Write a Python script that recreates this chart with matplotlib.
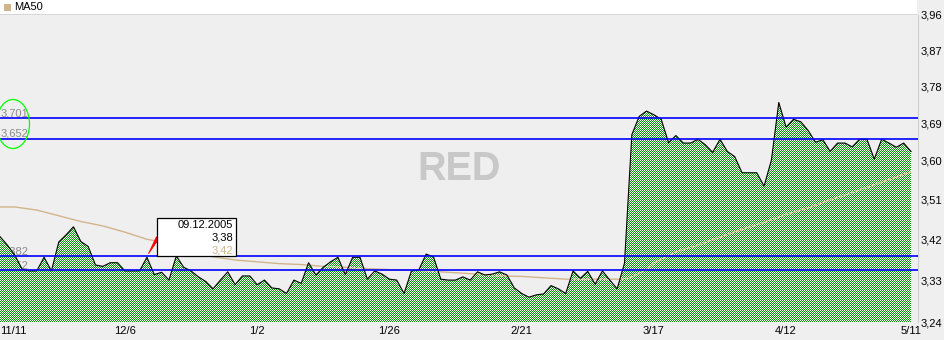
import numpy as np
import matplotlib
matplotlib.use("Agg")
import matplotlib.pyplot as plt
from matplotlib.patches import Polygon, Rectangle, Ellipse
from matplotlib.ticker import NullLocator, FixedLocator
from matplotlib.transforms import Affine2D

plt.rcParams['font.family'] = ['Liberation Sans', 'DejaVu Sans']

# ---------------- data ----------------
prices = [3.426, 3.407, 3.385, 3.354, 3.350, 3.350, 3.380, 3.350, 3.414, 3.430,
          3.448, 3.415, 3.404, 3.363, 3.360, 3.368, 3.368, 3.350, 3.350, 3.350,
          3.380, 3.342, 3.347, 3.330, 3.383, 3.358, 3.350, 3.337, 3.327, 3.311,
          3.330, 3.348, 3.320, 3.339, 3.339, 3.320, 3.330, 3.313, 3.311, 3.301,
          3.330, 3.323, 3.368, 3.341, 3.358, 3.370, 3.380, 3.342, 3.380, 3.380,
          3.332, 3.350, 3.343, 3.332, 3.330, 3.301, 3.350, 3.352, 3.387, 3.381,
          3.332, 3.330, 3.330, 3.337, 3.330, 3.348, 3.341, 3.343, 3.348, 3.341,
          3.313, 3.301, 3.293, 3.298, 3.300, 3.318, 3.311, 3.301, 3.350, 3.334,
          3.349, 3.321, 3.350, 3.330, 3.311, 3.367, 3.662, 3.706, 3.719, 3.710,
          3.699, 3.643, 3.660, 3.642, 3.642, 3.651, 3.638, 3.620, 3.651, 3.622,
          3.610, 3.572, 3.572, 3.572, 3.541, 3.602, 3.740, 3.680, 3.699, 3.693,
          3.672, 3.644, 3.650, 3.622, 3.642, 3.642, 3.633, 3.651, 3.651, 3.604,
          3.651, 3.642, 3.632, 3.642, 3.622]

ma_idx = [0, 2, 5, 8, 11, 14, 17, 20, 23, 26, 29, 32, 35, 38, 41, 44, 47, 50, 53, 56,
          59, 62, 65, 68, 71, 74, 77, 80, 83, 85, 86, 87, 88, 89, 91, 92, 95, 98, 101, 104,
          107, 110, 113, 116, 119, 122, 124]
ma_val = [3.493, 3.493, 3.486, 3.473, 3.460, 3.450, 3.436, 3.420, 3.411, 3.396,
          3.381, 3.374, 3.370, 3.366, 3.364, 3.360, 3.358, 3.355, 3.353, 3.352,
          3.349, 3.346, 3.343, 3.339, 3.338, 3.335, 3.332, 3.332, 3.332, 3.332,
          3.337, 3.345, 3.353, 3.367, 3.383, 3.392, 3.407, 3.425, 3.442, 3.458,
          3.476, 3.491, 3.509, 3.526, 3.544, 3.562, 3.574]

level_vals = [3.701, 3.652, 3.382, 3.352]
level_labels = ['3,701', '3,652', '3,382', '3,352']

ytick_vals = [3.24, 3.33, 3.42, 3.51, 3.60, 3.69, 3.78, 3.87, 3.96]
ytick_labels = ['3,24', '3,33', '3,42', '3,51', '3,60', '3,69', '3,78', '3,87', '3,96']

xtick_idx = [0, 17, 35, 53, 71, 89, 107, 124]
xtick_labels = ['11/11', '12/6', '1/2', '1/26', '2/21', '3/17', '4/12', '5/11']

tip_idx = 20
tip_date = '09.12.2005'
tip_price = 3.38
tip_ma = 3.42
tip_price_label = '3,38'
tip_ma_label = '3,42'

legend_label = 'MA50'
watermark = 'RED'

# ---------------- styling ----------------
BG = '#efefef'
TAN = '#d2b48c'
BLUE = '#0000ff'
W, H = 944, 340
FS = 8

fig = plt.figure(figsize=(W / 100, H / 100), dpi=100, facecolor=BG)
rect = [0, 18 / H, 918 / W, 307 / H]

ax = fig.add_axes(rect)
ax.set_zorder(0)
ax.patch.set_visible(False)
under = fig.add_axes(rect, sharex=ax, sharey=ax)
under.set_zorder(-2)
under.patch.set_visible(False)

idx = np.arange(len(prices))
ax.set_yscale('log')
ax.set_xlim(0.22, 124.95)
ax.set_ylim(3.24, 3.96)

# axis styling
for s in ['top', 'left', 'bottom']:
    ax.spines[s].set_visible(False)
ax.spines['right'].set_color('#cfcfcf')
ax.spines['right'].set_linewidth(0.8)
ax.yaxis.tick_right()
ax.yaxis.set_major_locator(FixedLocator(ytick_vals))
ax.yaxis.set_minor_locator(NullLocator())
ax.set_yticklabels(ytick_labels)
ax.set_xticks(xtick_idx)
ax.set_xticklabels(xtick_labels)
ax.tick_params(axis='both', length=0, labelsize=FS, colors='black')
ax.tick_params(axis='y', pad=2)
ax.tick_params(axis='x', pad=3)
xl = ax.get_xticklabels()
xl[0].set_ha('left')
under.axis('off')

# --- layer below the fill (under axes) ---
under.plot(ma_idx, ma_val, color=TAN, lw=1.0, solid_capstyle='butt')
ytr = under.get_yaxis_transform()
for v, lab in zip(level_vals, level_labels):
    under.text(0.001, v, lab, transform=ytr, ha='left', va='bottom',
               fontsize=FS, color='#8a8a8a')
under.text(0.5, 0.5, watermark, transform=under.transAxes, ha='center', va='center',
           fontsize=28.5, fontweight='bold', color='#c8c8c8')

# --- checkerboard fill (figure image clipped to price area) ---
yy, xx = np.mgrid[0:H, 0:W]
img = np.ones((H, W, 3))
img[(xx + yy) % 2 == 1] = np.array([0, 150, 0]) / 255.0
fim = fig.figimage(img, xo=0, yo=0, origin='upper', zorder=-1)
verts = [(idx[0], 3.24)] + list(zip(idx, prices)) + [(idx[-1], 3.24)]
clip_poly = Polygon(verts, closed=True, transform=ax.transData)
fim.set_clip_path(clip_poly)

# --- main layer ---
ax.plot(idx, prices, color='black', lw=0.8, zorder=3)
ma_dot, = ax.plot(ma_idx, ma_val, color='#e6c9a6', lw=1.3,
                  linestyle=(0, (1.6, 0.8)), zorder=2)
clip_poly2 = Polygon(verts, closed=True, transform=ax.transData)
ma_dot.set_clip_path(clip_poly2)
for v in level_vals:
    ax.axhline(v, color=BLUE, lw=1.2, zorder=4)

# green ellipse around upper labels
ax.add_patch(Ellipse((13 / 918, (322 - 124) / 307), 33 / 918, 49 / 307,
                     transform=ax.transAxes, fill=False, edgecolor='#00ff00',
                     lw=0.9, clip_on=False, zorder=5))

# tooltip
px, py = ax.transData.transform((tip_idx, tip_price))
tt = Affine2D().translate(px, py)
ax.add_patch(Polygon([(1.5, 3.5), (9.5, 20.5), (11.5, 18.0)], closed=True,
                     transform=tt, facecolor='red', edgecolor='red', lw=0.6,
                     clip_on=False, zorder=6))
ax.add_patch(Rectangle((10.5, 1.5), 79, 38, transform=tt, facecolor='white',
                       edgecolor='black', lw=0.9, clip_on=False, zorder=7))
ax.text(86.5, 32.5, tip_date, transform=tt, ha='right', va='center',
        fontsize=FS, color='black', zorder=8)
ax.text(86.5, 19.5, tip_price_label, transform=tt, ha='right', va='center',
        fontsize=FS, color='black', zorder=8)
ax.text(86.5, 6.5, tip_ma_label, transform=tt, ha='right', va='center',
        fontsize=FS, color=TAN, zorder=8)

# legend band at top
fig.patches.append(Rectangle((0, 1 - 13.5 / H), 917 / W, 13.5 / H,
                             transform=fig.transFigure, facecolor='white',
                             edgecolor='none', zorder=10))
fig.patches.append(Rectangle((0, 1 - 14.5 / H), 917 / W, 1 / H,
                             transform=fig.transFigure, facecolor='#d6d6d6',
                             edgecolor='none', zorder=10))
fig.patches.append(Rectangle((4 / W, 1 - 11 / H), 7 / W, 7 / H,
                             transform=fig.transFigure, facecolor=TAN,
                             edgecolor='none', zorder=11))
fig.text(14 / W, 1 - 7.5 / H, legend_label, ha='left', va='center',
         fontsize=FS, color='black', zorder=11)

fig.savefig('out.png', dpi=100, facecolor=BG)
